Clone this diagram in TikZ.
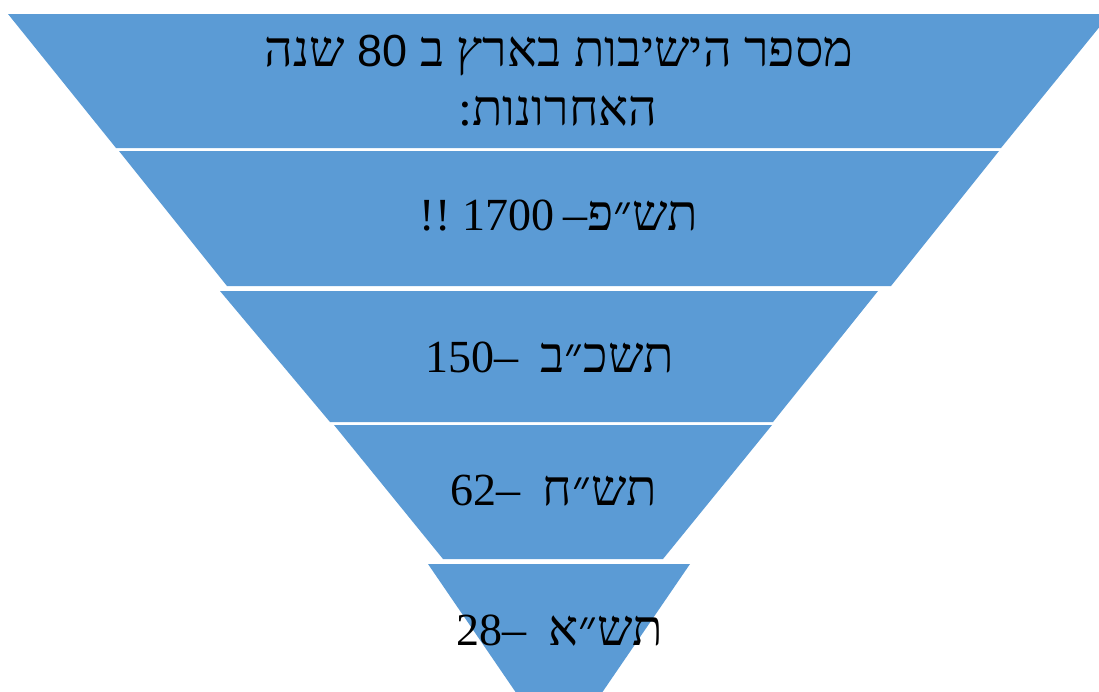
\documentclass[tikz,border=0pt]{standalone}
\usepackage{fontspec}
\setmainfont{Liberation Serif}
\newfontfamily\hebfont[Script=Hebrew]{Liberation Serif}
\newfontfamily\latsans{Liberation Sans}
\TeXXeTstate=1
\definecolor{bandblue}{HTML}{5B9BD5}
\newcommand{\numtxt}[1]{\beginL{\fontsize{46}{52}\selectfont #1}\endL}
\newcommand{\dashtxt}{{\fontsize{48}{52}\selectfont –}}
\begin{document}
\begin{tikzpicture}[x=1pt,y=-1pt,
  band/.style={fill=bandblue},
  lbl/.style={anchor=base, inner sep=0pt, font=\fontsize{50}{56}\selectfont\hebfont}]
\useasboundingbox (0,0) rectangle (1099,691);
\clip (0,0) rectangle (1099,691);
% bands
\fill[band] (8,14) -- (1110,14) -- (1001,148) -- (116,148) -- cycle;
\fill[band] (119,151) -- (999,151) -- (891,286) -- (227,286) -- cycle;
\fill[band] (220,291) -- (878,291) -- (773,422) -- (330,422) -- cycle;
\fill[band] (334,425) -- (772,425) -- (663,559) -- (443,559) -- cycle;
\fill[band] (428,564) -- (690,564) -- (597,700) -- (521,700) -- cycle;
% labels
\node[lbl] (title1) at (559,66) {\beginR מספר הישיבות בארץ ב \beginL{\latsans\fontsize{45}{52}\selectfont 80}\endL{} שנה\endR};
\node[lbl] (title2) at (558,125) {\beginR האחרונות:\endR};
\node[lbl] (l2) at (559,230) {\beginR תש״פ\dashtxt\hskip 8pt \numtxt{1700} {\fontsize{46}{52}\selectfont !!}\endR};
\node[lbl] (l3) at (550,372) {\beginR תשכ״ב\hskip 22pt\dashtxt\numtxt{150}\endR};
\node[lbl] (l4) at (554,505) {\beginR תש״ח\hskip 22pt\dashtxt\numtxt{62}\endR};
\node[lbl] (l5) at (560,645) {\beginR תש״א\hskip 22pt\dashtxt\numtxt{28}\endR};
\end{tikzpicture}
\end{document}
